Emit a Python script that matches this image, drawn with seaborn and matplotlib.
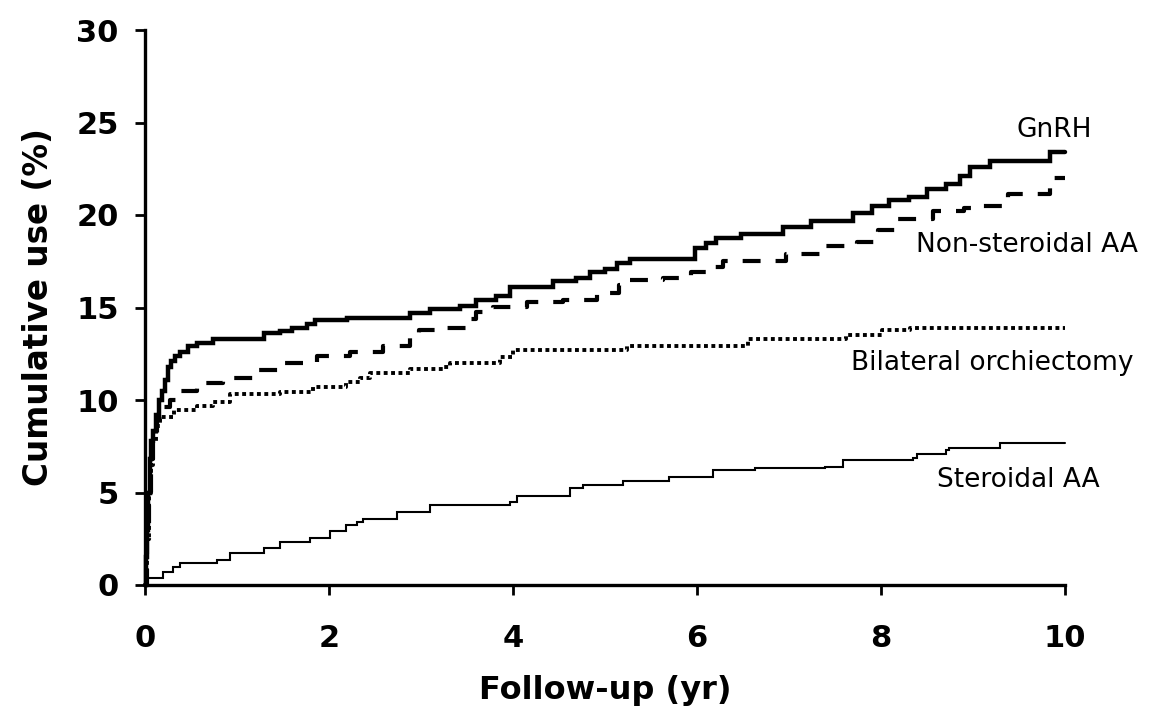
import matplotlib
matplotlib.use("Agg")
import matplotlib.pyplot as plt
import seaborn as sns
import pandas as pd

# ---- data (step points: time in years, cumulative %) ----
gnrh_t = [0, 0.01, 0.02, 0.03, 0.05, 0.07, 0.09, 0.12, 0.15, 0.18, 0.22, 0.25, 0.28, 0.33,
          0.38, 0.47, 0.56, 0.74, 1.29, 1.47, 1.6, 1.76, 1.85, 2.2, 2.88, 3.1, 3.42, 3.6,
          3.82, 3.97, 4.44, 4.69, 4.84, 5.0, 5.13, 5.27, 5.98, 6.1, 6.21, 6.48, 6.94, 7.24,
          7.7, 7.9, 8.09, 8.3, 8.5, 8.71, 8.86, 8.97, 9.18, 9.84, 10.0]
gnrh_v = [0, 1.5, 3.0, 5.0, 6.8, 7.8, 8.3, 9.2, 10.0, 10.5, 11.1, 11.8, 12.1, 12.4,
          12.6, 12.9, 13.1, 13.3, 13.6, 13.75, 13.9, 14.1, 14.35, 14.45, 14.7, 14.9, 15.1, 15.4,
          15.6, 16.1, 16.45, 16.6, 16.9, 17.1, 17.4, 17.6, 18.2, 18.5, 18.75, 19.0, 19.35, 19.7,
          20.1, 20.5, 20.8, 21.0, 21.4, 21.7, 22.1, 22.6, 22.9, 23.4, 23.4]

nsaa_t = [0, 0.02, 0.04, 0.06, 0.09, 0.13, 0.2, 0.27, 0.36, 0.56, 0.85, 1.22, 1.5, 1.87,
          2.23, 2.59, 2.88, 2.98, 3.2, 3.51, 3.6, 3.78, 4.15, 4.54, 4.91, 5.15, 5.22, 5.63,
          5.94, 6.2, 6.28, 6.97, 7.39, 7.74, 7.97, 8.17, 8.57, 8.9, 9.0, 9.33, 9.38, 9.84, 10.0]
nsaa_v = [0, 2.5, 5.0, 6.8, 8.0, 9.0, 9.6, 10.0, 10.5, 10.9, 11.2, 11.6, 12.0, 12.4,
          12.6, 12.9, 13.5, 13.8, 13.9, 14.4, 14.75, 15.05, 15.3, 15.4, 15.8, 16.2, 16.5, 16.6,
          16.9, 17.2, 17.5, 17.9, 18.3, 18.55, 19.2, 19.8, 20.2, 20.4, 20.5, 20.9, 21.15, 22.0, 22.0]

orch_t = [0, 0.02, 0.04, 0.06, 0.09, 0.12, 0.16, 0.31, 0.56, 0.74, 0.92, 1.47, 1.83, 2.19,
          2.34, 2.45, 2.88, 3.24, 3.32, 3.86, 4.0, 5.24, 6.55, 7.62, 8.01, 8.32, 10.0]
orch_v = [0, 2.5, 5.0, 6.5, 7.8, 8.6, 9.1, 9.45, 9.7, 9.9, 10.3, 10.45, 10.7, 11.0,
          11.2, 11.45, 11.7, 11.8, 12.0, 12.35, 12.7, 12.9, 13.3, 13.5, 13.8, 13.9, 13.9]

saa_t = [0, 0.01, 0.2, 0.3, 0.38, 0.78, 0.92, 1.29, 1.47, 1.79, 2.01, 2.19, 2.3, 2.37, 2.74,
         3.1, 3.97, 4.04, 4.62, 4.76, 5.2, 5.7, 6.17, 6.63, 7.39, 7.59, 8.35, 8.39, 8.71,
         8.74, 9.29, 10.0]
saa_v = [0, 0.38, 0.72, 1.0, 1.18, 1.35, 1.72, 2.0, 2.35, 2.53, 2.9, 3.24, 3.42, 3.55, 3.96,
         4.32, 4.5, 4.81, 5.23, 5.4, 5.64, 5.85, 6.2, 6.3, 6.4, 6.75, 6.85, 7.1, 7.3,
         7.4, 7.7, 7.7]

series_names = ["GnRH", "Non-steroidal AA", "Bilateral orchiectomy", "Steroidal AA"]
x_ticks = [0, 2, 4, 6, 8, 10]
y_ticks = [0, 5, 10, 15, 20, 25, 30]
x_label = "Follow-up (yr)"
y_label = "Cumulative use (%)"

# ---- style ----
sns.set_style("ticks")
plt.rcParams["font.family"] = ["DejaVu Sans"]
plt.rcParams["text.color"] = "black"
plt.rcParams["axes.labelcolor"] = "black"

W, H = 1152, 722
fig = plt.figure(figsize=(W / 100, H / 100), dpi=100)
ax = fig.add_axes([145 / W, 1 - 585 / H, 920 / W, 555 / H])

styles = {
    "GnRH": dict(lw=3.2, dashes=None),
    "Non-steroidal AA": dict(lw=3.0, dashes=(4.3, 3.6)),
    "Bilateral orchiectomy": dict(lw=2.8, dashes=(1.0, 0.9)),
    "Steroidal AA": dict(lw=1.5, dashes=None),
}
data = {
    "GnRH": (gnrh_t, gnrh_v),
    "Non-steroidal AA": (nsaa_t, nsaa_v),
    "Bilateral orchiectomy": (orch_t, orch_v),
    "Steroidal AA": (saa_t, saa_v),
}

for name in series_names:
    t, v = data[name]
    df = pd.DataFrame({"t": t, "v": v})
    st = styles[name]
    kw = dict(color="black", lw=st["lw"], drawstyle="steps-post",
              estimator=None, sort=False, legend=False, ax=ax, clip_on=False,
              solid_joinstyle="miter")
    sns.lineplot(data=df, x="t", y="v", **kw)
    line = ax.lines[-1]
    if st["dashes"] is not None:
        line.set_dashes(st["dashes"])
        line.set_dash_capstyle("butt")

ax.set_xlim(0, 10)
ax.set_ylim(0, 30)
ax.set_xticks(x_ticks)
ax.set_yticks(y_ticks)
ax.set_xticklabels([str(x) for x in x_ticks], fontweight="bold")
ax.set_yticklabels([str(y) for y in y_ticks], fontweight="bold")
ax.tick_params(axis="both", direction="out", length=7, width=2.0, color="black",
               labelsize=22, labelcolor="black")
ax.tick_params(axis="y", pad=12)
ax.tick_params(axis="x", pad=21)
sns.despine(ax=ax)
for s in ["left", "bottom"]:
    ax.spines[s].set_linewidth(2.4)
    ax.spines[s].set_color("black")

ax.set_xlabel(x_label, fontsize=23, fontweight="bold", color="black")
ax.set_ylabel(y_label, fontsize=23.5, fontweight="bold", color="black")
ax.xaxis.set_label_coords(0.5, -0.162)
ax.yaxis.set_label_coords(-0.098, 0.5)

# series labels
lab_kw = dict(fontsize=19, color="black", clip_on=False)
ax.text(10.29, 24.6, "GnRH", ha="right", va="center", **lab_kw)
ax.text(10.79, 18.4, "Non-steroidal AA", ha="right", va="center", **lab_kw)
ax.text(10.74, 12.0, "Bilateral orchiectomy", ha="right", va="center", **lab_kw)
ax.text(10.38, 5.68, "Steroidal AA", ha="right", va="center", **lab_kw)

fig.savefig("out.png", dpi=100, facecolor="white")
